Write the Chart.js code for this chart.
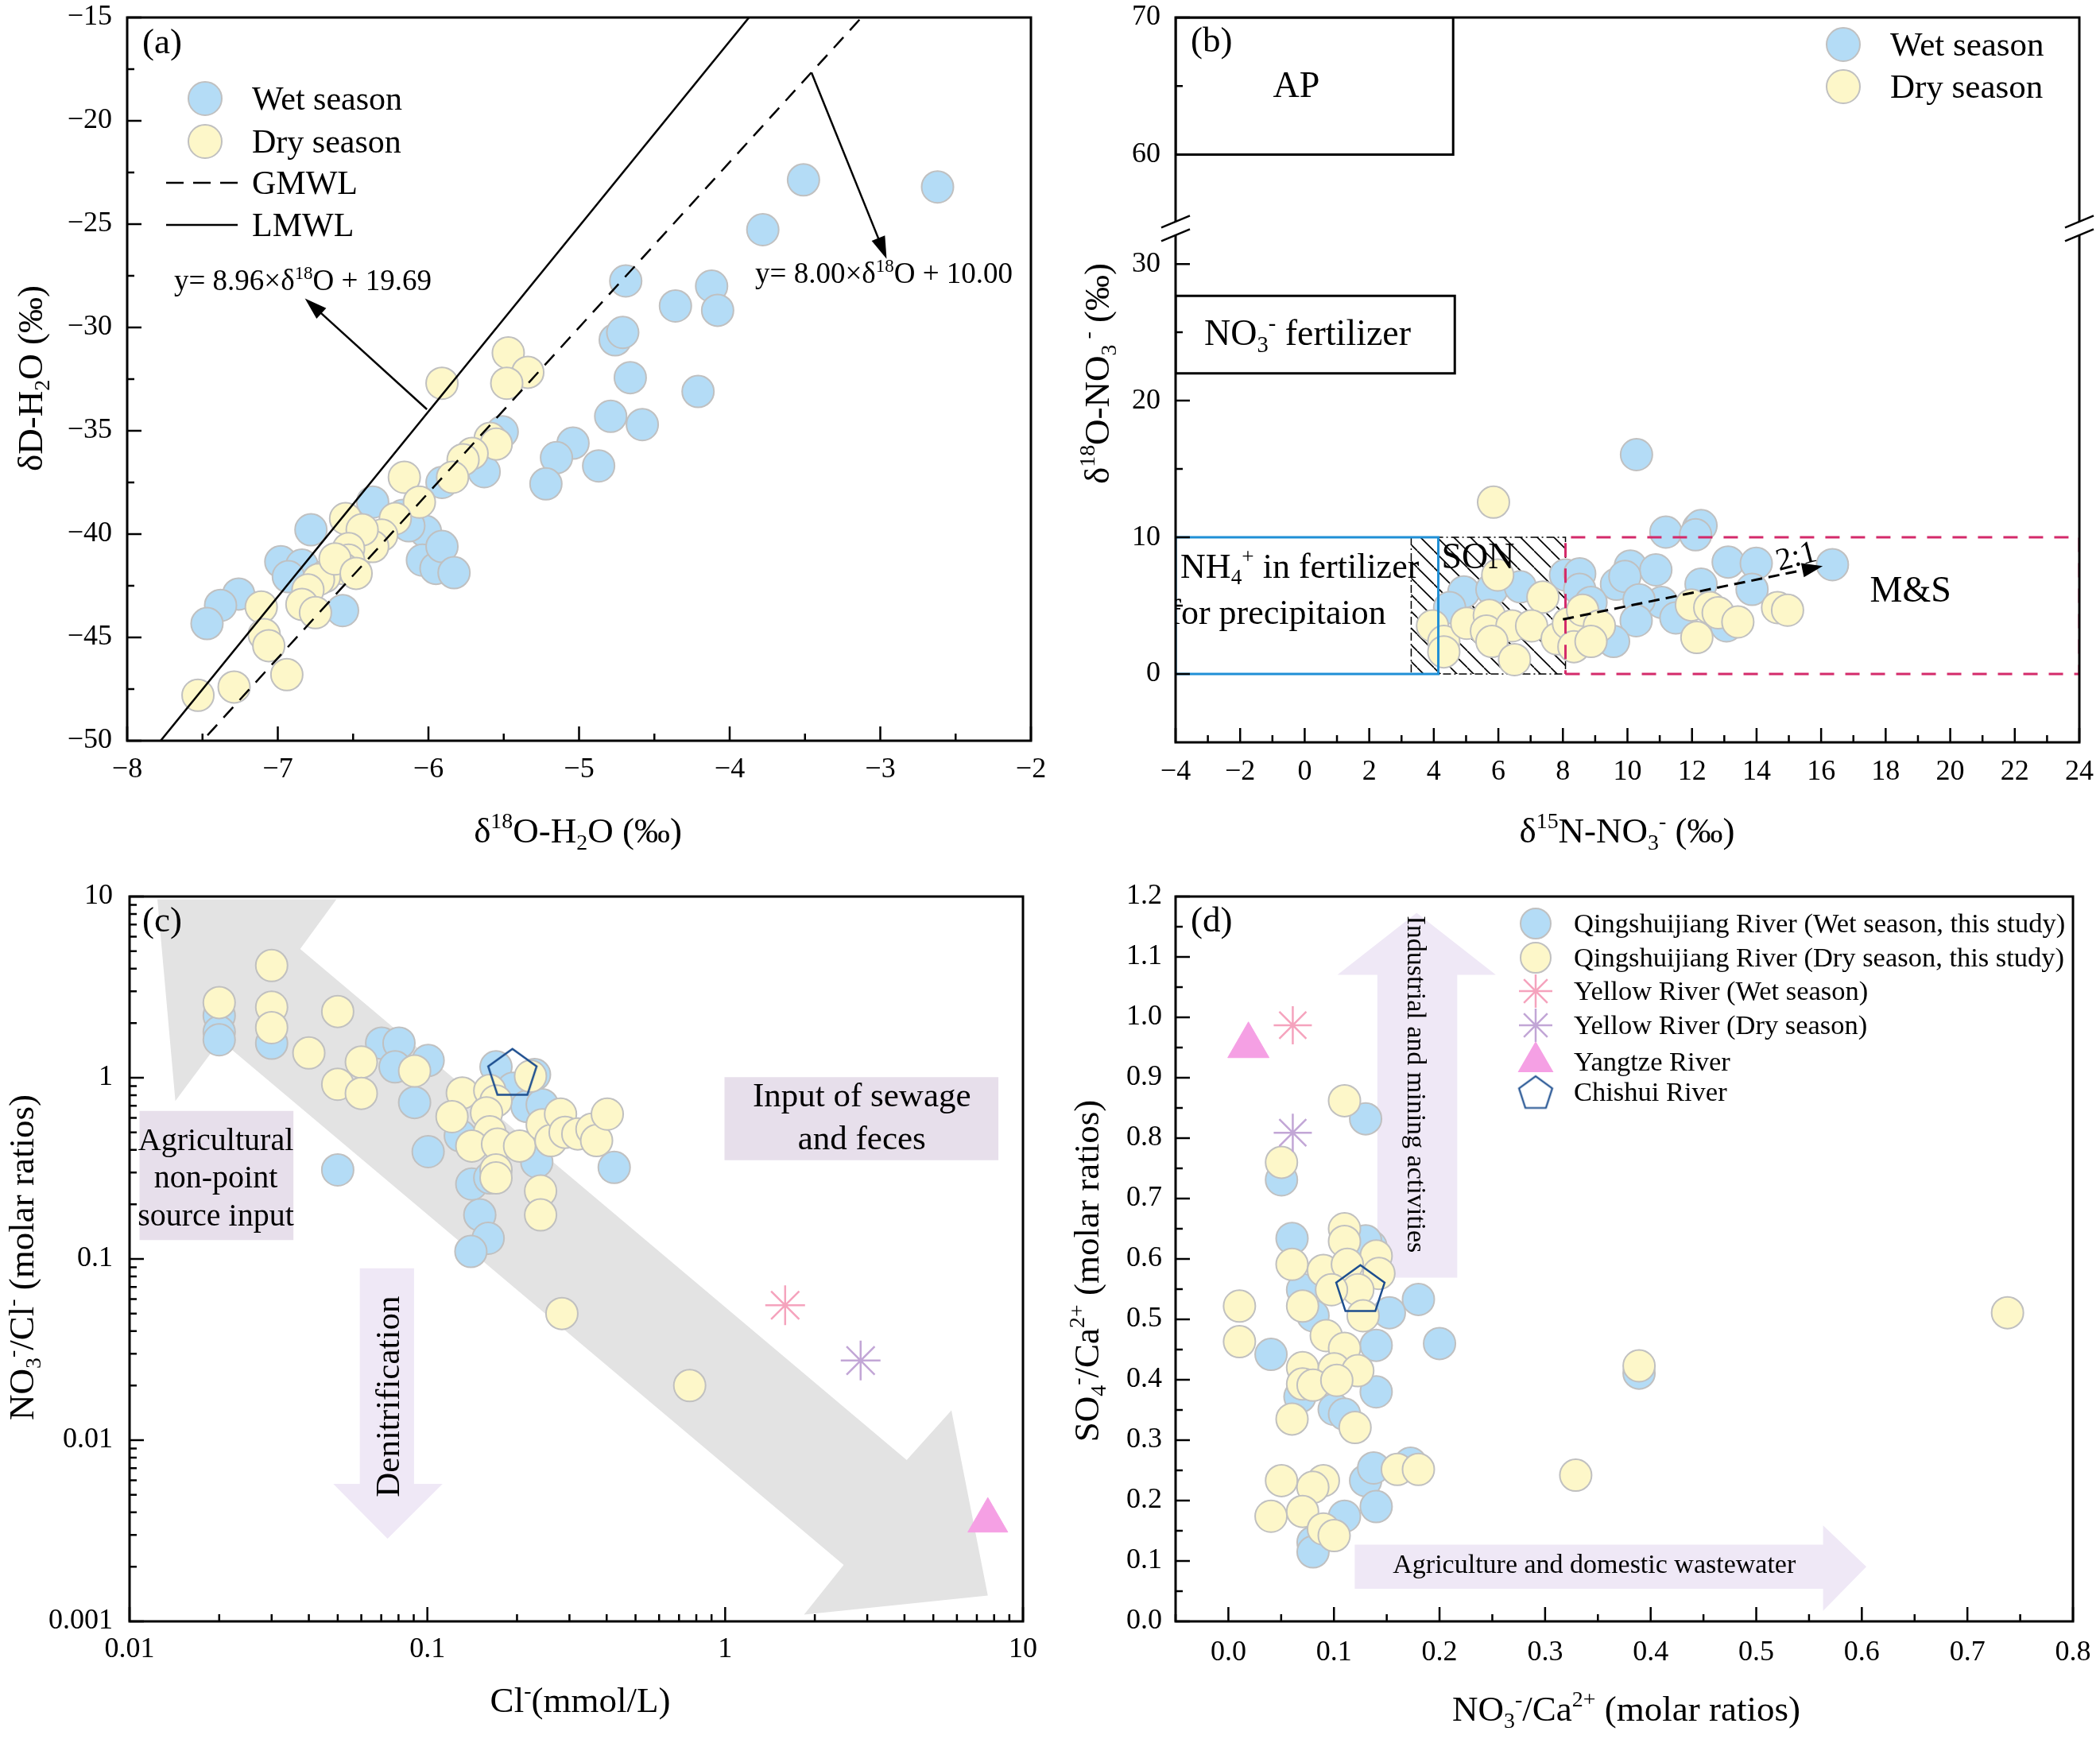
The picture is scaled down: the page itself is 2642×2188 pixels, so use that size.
<!DOCTYPE html>
<html><head><meta charset="utf-8">
<script src="https://cdn.jsdelivr.net/npm/chart.js@4.4.1/dist/chart.umd.min.js"></script>
<style>
html,body{margin:0;padding:0;background:#fff;}
#wrap{position:relative;width:2642px;height:2188px;background:#fff;}
canvas{position:absolute;}
</style></head>
<body><div id="wrap">
<canvas id="ca" width="1321" height="1094" style="left:0;top:0"></canvas>
<canvas id="cb" width="1321" height="1094" style="left:1321px;top:0"></canvas>
<canvas id="cc" width="1321" height="1094" style="left:0;top:1094px"></canvas>
<canvas id="cd" width="1321" height="1094" style="left:1321px;top:1094px"></canvas>
</div>
<script>
// ================= DATA =================
// ---- Panel (a): dD vs d18O of water ----
const aWetX = [-2.62,-3.51,-3.78,-4.69,-4.12,-4.08,-4.36,-4.76,-4.71,-4.66,-4.21,-4.79,-4.58,-5.04,-5.15,-4.87,-5.22,-5.51,-5.63,-5.91,-6.37,-6.17,-6.02,-6.04,-5.95,-5.91,-5.83,-6.78,-6.98,-6.84,-6.93,-6.57,-7.26,-7.38,-7.47,-6.44,-6.13];
const aWetY = [-23.2,-22.86,-25.27,-27.75,-28.0,-29.17,-28.96,-30.6,-30.24,-32.43,-33.1,-34.3,-34.7,-35.6,-36.3,-36.7,-37.57,-35.05,-36.98,-37.5,-38.45,-39.1,-39.87,-41.26,-41.66,-40.6,-41.87,-39.79,-41.34,-41.5,-42.06,-43.7,-42.9,-43.45,-44.33,-40.7,-39.6];
const aDryX = [-5.91,-5.47,-5.34,-5.48,-5.59,-5.55,-5.71,-5.77,-5.84,-6.16,-6.06,-6.22,-6.31,-6.37,-6.55,-6.44,-6.53,-6.53,-6.57,-6.69,-6.73,-6.80,-6.84,-6.75,-7.11,-7.09,-7.06,-6.94,-7.29,-7.53,-6.62,-6.48];
const aDryY = [-32.7,-31.23,-32.17,-32.7,-35.37,-35.64,-36.1,-36.4,-37.25,-37.25,-38.45,-39.25,-40.05,-40.6,-39.25,-39.79,-40.7,-41.26,-41.66,-42.06,-42.2,-42.7,-43.4,-43.8,-43.53,-44.87,-45.4,-46.8,-47.4,-47.8,-41.2,-41.9];
const aLmwlX = [-8, -3];      // y = 8.96x + 19.69
const aLmwlY = [-51.99, -7.19];
const aGmwlX = [-8, -2];      // y = 8.00x + 10.00
const aGmwlY = [-54, -6];
const aXMajor = [-8,-7,-6,-5,-4,-3,-2];
const aXMinor = [-7.5,-6.5,-5.5,-4.5,-3.5,-2.5];
const aYMajor = [-50,-45,-40,-35,-30,-25,-20,-15];
const aYMinor = [-47.5,-42.5,-37.5,-32.5,-27.5,-22.5,-17.5];

// ---- Panel (b): d18O-NO3 vs d15N-NO3 ----
const bWetX = [10.28,11.19,12.2,12.28,12.11,8.08,8.52,10.09,10.88,13.12,13.99,16.35,4.93,5.8,6.68,4.49,8.52,9.66,9.92,12.28,13.86,11.06,10.36,11.5,13.07,10.27,9.57,8.87];
const bWetY = [16.05,10.38,10.67,10.86,10.19,7.24,7.33,7.9,7.62,8.19,8.1,8.0,6.0,6.19,6.38,4.86,6.19,6.57,7.14,6.57,6.19,5.24,5.43,4.1,3.52,3.9,2.38,5.24];
const bDryX = [5.85,5.98,7.38,3.96,4.31,4.31,5.02,5.72,5.63,6.42,5.8,6.5,7.03,7.82,8.17,8.34,8.61,9.13,8.87,11.98,12.55,12.81,13.42,12.15,14.65,14.96];
const bDryY = [12.57,7.24,5.62,3.52,2.38,1.62,3.71,4.29,3.14,3.52,2.38,1.05,3.52,2.57,3.71,2.0,4.67,3.52,2.38,5.05,4.86,4.48,3.81,2.67,4.86,4.67];
const bApX = [-4, 4.6, 4.6, -4, -4],        bApY = [60, 60, 70, 70, 60];
const bFertX = [-4, 4.65, 4.65, -4, -4],    bFertY = [22.0, 22.0, 27.66, 27.66, 22.0];
const bNh4X = [-4, 4.14, 4.14, -4, -4],     bNh4Y = [0, 0, 10, 10, 0];
const bSonX = [3.3, 8.08, 8.08, 3.3, 3.3],  bSonY = [0, 0, 10, 10, 0];
const bMsX = [8.08, 24, 24, 8.08, 8.08],    bMsY = [0, 0, 10, 10, 0];
const bXMajor = [-4,-2,0,2,4,6,8,10,12,14,16,18,20,22,24];
const bXMinor = [-3,-1,1,3,5,7,9,11,13,15,17,19,21,23];
const bYMajor = [0,10,20,30], bYMinor = [5,15,25];
const bY2Major = [60,70], bY2Minor = [65];

// ---- Panel (c): NO3/Cl vs Cl (log-log) ----
const cWetX = [0.02,0.02,0.02,0.03,0.0702,0.0803,0.1006,0.0779,0.0906,0.1006,0.05,0.17,0.229,0.194,0.216,0.243,0.129,0.233,0.424,0.141,0.15,0.162,0.16,0.14];
const cWetY = [2.2,1.79,1.62,1.55,1.553,1.553,1.245,1.148,0.73,0.391,0.31,1.148,1.04,0.875,0.695,0.71,0.478,0.343,0.32,0.259,0.175,0.28,0.13,0.11];
const cDryX = [0.03,0.02,0.03,0.03,0.05,0.04,0.06,0.05,0.06,0.0906,0.131,0.162,0.121,0.17,0.158,0.162,0.141,0.172,0.204,0.222,0.243,0.26,0.28,0.29,0.32,0.357,0.37,0.402,0.17,0.17,0.24,0.24,0.283,0.76];
const cDryY = [4.16,2.6,2.45,1.89,2.32,1.37,1.22,0.92,0.82,1.09,0.824,0.85,0.61,0.745,0.64,0.503,0.42,0.43,0.42,1.02,0.55,0.45,0.63,0.5,0.49,0.52,0.45,0.63,0.31,0.28,0.237,0.175,0.05,0.02];
const cYrWetX = [1.59], cYrWetY = [0.0555];
const cYrDryX = [2.85], cYrDryY = [0.0275];
const cYangX = [7.62],  cYangY = [0.0036];
const cChiX = [0.193],  cChiY = [1.08];
const cArrowX = [0.0124,0.0495,0.0374,4.07,5.75,7.62,1.84,2.5,0.0202,0.01425,0.0124];
const cArrowY = [9.65,9.65,5.13,0.00776,0.0146,0.00139,0.00109,0.00205,1.61,0.745,9.65];
const cAgriX = [0.0108,0.0355,0.0355,0.0108,0.0108], cAgriY = [0.656,0.656,0.127,0.127,0.656];
const cSewX = [0.995,8.27,8.27,0.995,0.995],         cSewY = [1.007,1.007,0.351,0.351,1.007];
const cDenX = [0.0593,0.0902,0.0902,0.1125,0.0735,0.0483,0.0593,0.0593];
const cDenY = [0.0888,0.0888,0.00574,0.00574,0.00286,0.00574,0.00574,0.0888];
const cXMajor = [0.01,0.1,1,10];
const cYMajor = [0.001,0.01,0.1,1,10];

// ---- Panel (d): SO4/Ca vs NO3/Ca ----
const dWetX = [0.13,0.0503,0.0603,0.135,0.0703,0.18,0.1525,0.0802,0.0404,0.2,0.14,0.14,0.0678,0.1002,0.11,0.13,0.1376,0.1725,0.11,0.14,0.0802,0.0802,0.389,0.13];
const dWetY = [0.832,0.731,0.634,0.621,0.549,0.533,0.511,0.506,0.442,0.46,0.457,0.38,0.372,0.351,0.343,0.233,0.254,0.262,0.174,0.19,0.131,0.115,0.411,0.63];
const dDryX = [0.738,0.389,0.329,0.11,0.0503,0.11,0.11,0.14,0.0603,0.09,0.1127,0.1426,0.1226,0.0977,0.0105,0.0703,0.1276,0.0105,0.0927,0.11,0.0703,0.1002,0.1226,0.0703,0.0802,0.1027,0.0603,0.12,0.0503,0.09,0.08,0.16,0.18,0.0404,0.0703,0.09,0.1002];
const dDryY = [0.511,0.423,0.242,0.862,0.76,0.65,0.629,0.605,0.591,0.581,0.591,0.576,0.549,0.549,0.522,0.522,0.506,0.463,0.473,0.452,0.42,0.418,0.415,0.393,0.391,0.399,0.335,0.321,0.233,0.233,0.222,0.2515,0.2515,0.174,0.182,0.153,0.142];
const dYrWetX = [0.061], dYrWetY = [0.987];
const dYrDryX = [0.061], dYrDryY = [0.809];
const dYangX = [0.019],  dYangY = [0.953];
const dChiX = [0.125],   dChiY = [0.552];
const dUpX = [0.1411,0.2168,0.2168,0.2533,0.1783,0.1033,0.1411,0.1411];
const dUpY = [0.569,0.569,1.0705,1.0705,1.173,1.0705,1.0705,0.569];
const dRightX = [0.1197,0.5633,0.5633,0.6043,0.5633,0.5633,0.1197,0.1197];
const dRightY = [0.127,0.127,0.159,0.0906,0.0174,0.054,0.054,0.127];
const dXMajor = [0,0.1,0.2,0.3,0.4,0.5,0.6,0.7,0.8];
const dXMinor = [-0.05,0.05,0.15,0.25,0.35,0.45,0.55,0.65,0.75];
const dYMajor = [0,0.1,0.2,0.3,0.4,0.5,0.6,0.7,0.8,0.9,1.0,1.1,1.2];
const dYMinor = [0.05,0.15,0.25,0.35,0.45,0.55,0.65,0.75,0.85,0.95,1.05,1.15];

// ================= STYLE =================
const SERIF = '"Liberation Serif","Times New Roman",serif';
const BLUE = '#b4dcf6', YEL = '#fdf7c9', EDGE = '#c0c0c0';
const PINK = '#f5a3bd', PURP = '#c2a6d6', TRI = '#f5a0e4', PENT = '#1d4e8f';
const LAV = '#e7dfeb', LAV2 = '#efe8f6', GRAY = '#e3e3e3';
const BOXBLUE = '#1f8fd6', CRIMSON = '#d42a6a';

function pts(xs, ys){ return xs.map((x,i)=>({x:x, y:ys[i]})); }
function logMinor(majors){ const out=[]; majors.slice(0,-1).forEach(d=>{ for(let k=2;k<=9;k++) out.push(+(k*d).toPrecision(6)); }); return out; }

function tickSetter(major, minor){
  return s => {
    const m = new Set(major.map(v=>+v.toPrecision(8)));
    s.ticks = major.concat(minor).sort((p,q)=>p-q).map(v=>({value:v, major:m.has(+v.toPrecision(8))}));
  };
}
function fmtLin(dec){ return (v,i,t)=> (t[i] && t[i].major) ? (Math.abs(v)<1e-9?0:v).toFixed(dec).replace('-','\u2212') : ''; }
function fmtLog(v,i,t){ if(!(t[i] && t[i].major)) return ''; const e=Math.round(Math.log10(v)); return e<0 ? Math.pow(10,e).toFixed(-e) : String(Math.round(Math.pow(10,e))); }

function zeroPad(s){ s.paddingLeft=0; s.paddingRight=0; s.paddingTop=0; s.paddingBottom=0; }
function axis(kind, o){
  const isLog = o.type==='logarithmic';
  const sc = {
    type: o.type || 'linear', position: kind==='x'?'bottom':'left', min:o.min, max:o.max, bounds:'data',
    afterBuildTicks: tickSetter(o.major, o.minor),
    grid:{display:false, drawTicks:false}, border:{display:false},
    ticks:{autoSkip:false, maxRotation:0, minRotation:0, padding:o.pad, color:'#000',
      font:{family:SERIF, size:36, lineHeight:1}, callback: isLog ? fmtLog : fmtLin(o.dec||0)}
  };
  if(kind==='x') sc.afterFit = s => { s.height = o.size; zeroPad(s); };
  else sc.afterFit = s => { s.width = o.size; zeroPad(s); };
  if(o.extra) Object.assign(sc, o.extra);
  return sc;
}

function ptSet(label, xs, ys, fill, edge, r, order, extra){
  return Object.assign({type:'scatter', label:label, data:pts(xs,ys), pointStyle:'circle', pointRadius:r, pointHoverRadius:r,
    pointBackgroundColor:fill, pointBorderColor:edge, pointBorderWidth:2, backgroundColor:fill, borderColor:edge,
    showLine:false, order:order}, extra||{});
}
function lineSet(label, xs, ys, color, lw, dash, order, extra){
  return Object.assign({type:'line', label:label, data:pts(xs,ys), borderColor:color, borderWidth:lw, borderDash:dash||[],
    pointRadius:0, pointHoverRadius:0, fill:false, tension:0, order:order}, extra||{});
}
function polySet(label, xs, ys, color, order, extra){
  return lineSet(label, xs, ys, 'rgba(0,0,0,0)', 1, [], order, Object.assign({fill:'shape', backgroundColor:color}, extra||{}));
}

// ---------- rich text (sub/superscripts) ----------
function parseRich(s){
  const out=[]; let i=0, buf='';
  while(i<s.length){
    const c=s[i];
    if((c==='^'||c==='_') && s[i+1]==='{'){
      if(buf){ out.push({t:buf,k:''}); buf=''; }
      const j=s.indexOf('}',i);
      out.push({t:s.slice(i+2,j), k:c==='^'?'sup':'sub'});
      i=j+1;
    } else { buf+=c; i++; }
  }
  if(buf) out.push({t:buf,k:''});
  return out;
}
function drawRich(ctx, str, x, y, size, align, rot){
  const segs=parseRich(str);
  ctx.save(); ctx.translate(x,y); if(rot) ctx.rotate(rot);
  ctx.fillStyle='#000'; ctx.textBaseline='alphabetic'; ctx.textAlign='left';
  let w=0;
  for(const s of segs){ ctx.font=(s.k?size*0.62:size)+'px '+SERIF; s.w=ctx.measureText(s.t).width; w+=s.w; }
  let cx = align==='left'?0:(align==='right'?-w:-w/2);
  const base=size*0.33;
  for(const s of segs){
    ctx.font=(s.k?size*0.62:size)+'px '+SERIF;
    const dy = s.k==='sup' ? -size*0.40 : (s.k==='sub' ? size*0.20 : 0);
    ctx.fillText(s.t, cx, base+dy); cx+=s.w;
  }
  ctx.restore();
}

// ---------- marker images / patterns ----------
function pentagon(r, color, lw){
  const s=Math.ceil(2*r+2*lw+4); const c=document.createElement('canvas'); c.width=s; c.height=s;
  const g=c.getContext('2d'); g.strokeStyle=color; g.lineWidth=lw; g.lineJoin='miter'; g.beginPath();
  const cy=s/2+r*0.1;
  for(let k=0;k<5;k++){ const a=-Math.PI/2+k*2*Math.PI/5; const px=s/2+r*Math.cos(a), py=cy+r*Math.sin(a); if(k) g.lineTo(px,py); else g.moveTo(px,py); }
  g.closePath(); g.stroke(); return c;
}
const pentBig = pentagon(32, PENT, 2.5);
const pentLeg = pentagon(22, PENT, 2.2);
function hatch(ctx){
  const s=21, c=document.createElement('canvas'); c.width=s; c.height=s;
  const g=c.getContext('2d'); g.strokeStyle='#000'; g.lineWidth=1.6; g.beginPath();
  for(const k of [-1,0,1]){ g.moveTo(k*s, 0); g.lineTo(k*s+s, s); }
  g.stroke();
  return ctx.createPattern(c,'repeat');
}

// ---------- decoration plugin ----------
const DECO = {};
function drawMarker(ctx, m){
  ctx.save();
  if(m.type==='circle'){
    ctx.beginPath(); ctx.arc(m.x,m.y,m.r,0,Math.PI*2); ctx.fillStyle=m.fill; ctx.fill(); ctx.lineWidth=2; ctx.strokeStyle=m.edge; ctx.stroke();
  } else if(m.type==='star'){
    ctx.strokeStyle=m.color; ctx.lineWidth=2.5; ctx.beginPath();
    for(let k=0;k<4;k++){ const a=k*Math.PI/4; ctx.moveTo(m.x-Math.cos(a)*m.r, m.y-Math.sin(a)*m.r); ctx.lineTo(m.x+Math.cos(a)*m.r, m.y+Math.sin(a)*m.r); }
    ctx.stroke();
  } else if(m.type==='tri'){
    ctx.beginPath(); ctx.moveTo(m.x, m.y-m.r); ctx.lineTo(m.x+0.866*m.r, m.y+0.5*m.r); ctx.lineTo(m.x-0.866*m.r, m.y+0.5*m.r); ctx.closePath();
    ctx.fillStyle=m.color; ctx.fill();
  } else if(m.type==='img'){
    ctx.drawImage(m.img, m.x-m.img.width/2, m.y-m.img.height/2);
  } else if(m.type==='line'){
    ctx.strokeStyle='#000'; ctx.lineWidth=2.5; ctx.setLineDash(m.dash||[]); ctx.beginPath(); ctx.moveTo(m.x1,m.y); ctx.lineTo(m.x2,m.y); ctx.stroke();
  }
  ctx.restore();
}
function drawTexts(chart){
  const d=DECO[chart.canvas.id]; if(!d || !d.texts) return;
  const ctx=chart.ctx, a=chart.chartArea;
  ctx.save(); ctx.beginPath(); ctx.rect(a.left,a.top,a.right-a.left,a.bottom-a.top); ctx.clip();
  for(const t of d.texts){
    const xs=chart.scales[t.xa||'x'], ys=chart.scales[t.ya||'y'];
    drawRich(ctx, t.s, xs.getPixelForValue(t.x), ys.getPixelForValue(t.y), t.size, t.align||'center', t.rot||0);
  }
  ctx.restore();
}
function drawArrows(chart, d){
  const ctx=chart.ctx;
  for(const ar of (d.arrows||[])){
    const xs=chart.scales.x, ys=chart.scales[ar.ya||'y'];
    const x1=xs.getPixelForValue(ar.x1), y1=ys.getPixelForValue(ar.y1), x2=xs.getPixelForValue(ar.x2), y2=ys.getPixelForValue(ar.y2);
    const an=Math.atan2(y2-y1,x2-x1), L=ar.hl||28, W=ar.hw||9, c=Math.cos(an), s=Math.sin(an);
    ctx.save(); ctx.strokeStyle='#000'; ctx.fillStyle='#000'; ctx.lineWidth=ar.lw||2.5; ctx.setLineDash(ar.dash||[]);
    ctx.beginPath(); ctx.moveTo(x1,y1); ctx.lineTo(x2-c*L*0.8, y2-s*L*0.8); ctx.stroke();
    ctx.setLineDash([]); ctx.beginPath(); ctx.moveTo(x2,y2);
    ctx.lineTo(x2-c*L-s*W, y2-s*L+c*W); ctx.lineTo(x2-c*L+s*W, y2-s*L-c*W); ctx.closePath(); ctx.fill();
    ctx.restore();
  }
}
function drawFrame(chart, d){
  const ctx=chart.ctx, a=chart.chartArea;
  ctx.save(); ctx.strokeStyle='#000'; ctx.lineWidth=2.5; ctx.beginPath();
  for(const id in chart.scales){
    const s=chart.scales[id];
    for(const t of s.ticks){
      const L=t.major?18:9, p=s.getPixelForValue(t.value);
      if(s.isHorizontal()){ ctx.moveTo(p,a.bottom); ctx.lineTo(p,a.bottom-L); }
      else { ctx.moveTo(a.left,p); ctx.lineTo(a.left+L,p); }
    }
  }
  ctx.stroke();
  ctx.lineWidth=3; ctx.strokeRect(a.left,a.top,a.right-a.left,a.bottom-a.top);
  if(d.brk){
    const yb=chart.scales[d.brk].bottom;
    for(const x of [a.left,a.right]){
      ctx.fillStyle='#fff'; ctx.beginPath();
      ctx.moveTo(x-18,yb-1); ctx.lineTo(x+18,yb-16); ctx.lineTo(x+18,yb+1); ctx.lineTo(x-18,yb+16); ctx.closePath(); ctx.fill();
      ctx.lineWidth=2.5; ctx.beginPath();
      ctx.moveTo(x-18,yb-1); ctx.lineTo(x+18,yb-16);
      ctx.moveTo(x-18,yb+16); ctx.lineTo(x+18,yb+1);
      ctx.stroke();
    }
  }
  ctx.restore();
}
const decoPlugin = {
  id:'deco',
  beforeDatasetDraw(chart, args){
    const d=DECO[chart.canvas.id]; const ds=chart.data.datasets[args.index];
    if(!d.textsOnTop && ds && ds._textsHere) drawTexts(chart);
  },
  afterDatasetsDraw(chart){
    const d=DECO[chart.canvas.id];
    if(d.textsOnTop) drawTexts(chart);
    drawArrows(chart,d); drawFrame(chart,d);
  },
  afterDraw(chart){
    const d=DECO[chart.canvas.id], ctx=chart.ctx;
    for(const t of d.titles) drawRich(ctx, t.s, t.x, t.y, t.size, t.align||'center', t.rot||0);
    for(const m of (d.legend||[])){ drawMarker(ctx, m); if(m.text) drawRich(ctx, m.text, m.tx, m.y, m.size, 'left', 0); }
  }
};

function makeChart(id, datasets, scales, pad, deco){
  DECO[id]=deco;
  return new Chart(document.getElementById(id), {
    type:'scatter', data:{datasets:datasets},
    options:{responsive:false, maintainAspectRatio:false, animation:false, devicePixelRatio:1, events:[],
      layout:{padding:{left:0, right:pad.r, top:pad.t, bottom:0}},
      plugins:{legend:{display:false}, tooltip:{enabled:false}},
      scales:scales},
    plugins:[decoPlugin]
  });
}

// ================= PANEL (a) =================
makeChart('ca', [
  ptSet('Wet season', aWetX, aWetY, BLUE, EDGE, 20, 1, {_textsHere:true}),
  ptSet('Dry season', aDryX, aDryY, YEL, EDGE, 20, 0),
  lineSet('GMWL', aGmwlX, aGmwlY, '#000', 2.5, [18,12], -1),
  lineSet('LMWL', aLmwlX, aLmwlY, '#000', 2.5, [], -1)
], {
  x: axis('x', {min:-8, max:-2, major:aXMajor, minor:aXMinor, dec:0, pad:19, size:162}),
  y: axis('y', {min:-50, max:-15, major:aYMajor, minor:aYMinor, dec:0, pad:19, size:160})
}, {r:24, t:20}, {
  titles:[
    {s:'δ^{18}O-H_{2}O (‰)', x:727, y:1045, size:45},
    {s:'δD-H_{2}O (‰)', x:38, y:476, size:45, rot:-Math.PI/2},
    {s:'(a)', x:179, y:52, size:45, align:'left'}
  ],
  texts:[
    {s:'y= 8.96×δ^{18}O + 19.69', x:-6.834, y:-27.74, size:37},
    {s:'y= 8.00×δ^{18}O + 10.00', x:-2.976, y:-27.39, size:37}
  ],
  arrows:[
    {x1:-6.01, y1:-33.96, x2:-6.82, y2:-28.6},
    {x1:-3.457, y1:-17.66, x2:-2.958, y2:-26.68}
  ],
  legend:[
    {type:'circle', x:258, y:124, r:21, fill:BLUE, edge:EDGE, text:'Wet season', tx:317, size:42},
    {type:'circle', x:258, y:178, r:21, fill:YEL, edge:EDGE, text:'Dry season', tx:317, size:42},
    {type:'line', x1:209, x2:299, y:230, dash:[22,12], text:'GMWL', tx:317, size:42},
    {type:'line', x1:209, x2:299, y:283, text:'LMWL', tx:317, size:42}
  ]
});

// ================= PANEL (b) =================
const cbctx = document.getElementById('cb').getContext('2d');
makeChart('cb', [
  lineSet('SON', bSonX, bSonY, '#000', 1.5, [10,4,2,4], 12, {fill:'shape', backgroundColor:hatch(cbctx)}),
  ptSet('Wet season', bWetX, bWetY, BLUE, EDGE, 20, 1, {_textsHere:true}),
  ptSet('Dry season', bDryX, bDryY, YEL, EDGE, 20, 0),
  lineSet('NH4+ in fertilizer or precipitation', bNh4X, bNh4Y, BOXBLUE, 3, [], -1),
  lineSet('M&S', bMsX, bMsY, CRIMSON, 3, [18,14], -1),
  lineSet('NO3- fertilizer', bFertX, bFertY, '#000', 3, [], -1),
  lineSet('AP', bApX, bApY, '#000', 3, [], -1, {yAxisID:'y2'})
], {
  x: axis('x', {min:-4, max:24, major:bXMajor, minor:bXMinor, dec:0, pad:20, size:160}),
  y: axis('y', {min:-5, max:32.6, major:bYMajor, minor:bYMinor, dec:0, pad:19, size:158, extra:{stack:'b', stackWeight:648, weight:0}}),
  y2: axis('y', {min:54.62, max:70, major:bY2Major, minor:bY2Minor, dec:0, pad:19, size:158, extra:{stack:'b', stackWeight:266, weight:1}})
}, {r:26, t:20}, {
  brk:'y2',
  textsOnTop:true,
  titles:[
    {s:'δ^{15}N-NO_{3}^{-} (‰)', x:726, y:1045, size:45},
    {s:'δ^{18}O-NO_{3}^{ -} (‰)', x:59, y:470, size:45, rot:-Math.PI/2},
    {s:'(b)', x:177, y:50, size:45, align:'left'}
  ],
  texts:[
    {s:'AP', x:-0.26, y:65.1, ya:'y2', size:46},
    {s:'NO_{3}^{-} fertilizer', x:0.09, y:24.96, size:46},
    {s:'NH_{4}^{+} in fertilizer', x:-3.85, y:7.9, size:44, align:'left'},
    {s:'for precipitaion', x:-4.19, y:4.48, size:44, align:'left'},
    {s:'SON', x:5.37, y:8.6, size:46},
    {s:'M&S', x:18.77, y:6.2, size:46},
    {s:'2:1', x:15.22, y:8.67, size:40, rot:-0.26}
  ],
  arrows:[
    {x1:8.0, y1:4.0, x2:16.05, y2:7.9, lw:3, dash:[14,8], hl:26, hw:9}
  ],
  legend:[
    {type:'circle', x:998, y:56, r:21, fill:BLUE, edge:EDGE, text:'Wet season', tx:1057, size:43},
    {type:'circle', x:998, y:109, r:21, fill:YEL, edge:EDGE, text:'Dry season', tx:1057, size:43}
  ]
});

// ================= PANEL (c) =================
makeChart('cc', [
  polySet('arrow', cArrowX, cArrowY, GRAY, 11),
  polySet('agri box', cAgriX, cAgriY, LAV, 10),
  polySet('sewage box', cSewX, cSewY, LAV, 10),
  polySet('denitrification', cDenX, cDenY, LAV2, 10),
  ptSet('Wet season', cWetX, cWetY, BLUE, EDGE, 20, 2, {_textsHere:true}),
  ptSet('Dry season', cDryX, cDryY, YEL, EDGE, 20, 1),
  ptSet('Yellow River (Wet season)', cYrWetX, cYrWetY, PINK, PINK, 25, 0, {pointStyle:'star', pointBorderWidth:2.5}),
  ptSet('Yellow River (Dry season)', cYrDryX, cYrDryY, PURP, PURP, 25, 0, {pointStyle:'star', pointBorderWidth:2.5}),
  ptSet('Yangtze River', cYangX, cYangY, TRI, TRI, 29, 0, {pointStyle:'triangle', pointBorderWidth:1}),
  ptSet('Chishui River', cChiX, cChiY, 'rgba(0,0,0,0)', PENT, 32, 0, {pointStyle:pentBig})
], {
  x: axis('x', {type:'logarithmic', min:0.01, max:10, major:cXMajor, minor:logMinor(cXMajor), pad:18, size:148}),
  y: axis('y', {type:'logarithmic', min:0.001, max:10, major:cYMajor, minor:logMinor(cYMajor), pad:21, size:163})
}, {r:24, t:31}, {
  titles:[
    {s:'Cl^{-}(mmol/L)', x:730, y:1045, size:45},
    {s:'NO_{3}^{-}/Cl^{-} (molar ratios)', x:27, y:488, size:45, rot:-Math.PI/2},
    {s:'(c)', x:179, y:63, size:45, align:'left'}
  ],
  texts:[
    {s:'Agricultural', x:0.01948, y:0.456, size:40},
    {s:'non-point', x:0.01948, y:0.2826, size:40},
    {s:'source input', x:0.01948, y:0.174, size:40},
    {s:'Input of sewage', x:2.877, y:0.7985, size:43},
    {s:'and feces', x:2.877, y:0.4655, size:43},
    {s:'Denitrification', x:0.0735, y:0.0174, size:43, rot:-Math.PI/2}
  ],
  arrows:[]
});

// ================= PANEL (d) =================
makeChart('cd', [
  polySet('industrial arrow', dUpX, dUpY, LAV2, 10),
  polySet('agriculture arrow', dRightX, dRightY, LAV2, 10),
  ptSet('Qingshuijiang River (Wet season, this study)', dWetX, dWetY, BLUE, EDGE, 20, 2, {_textsHere:true}),
  ptSet('Qingshuijiang River (Dry season, this study)', dDryX, dDryY, YEL, EDGE, 20, 1),
  ptSet('Yellow River (Wet season)', dYrWetX, dYrWetY, PINK, PINK, 24, 0, {pointStyle:'star', pointBorderWidth:2.5}),
  ptSet('Yellow River (Dry season)', dYrDryX, dYrDryY, PURP, PURP, 24, 0, {pointStyle:'star', pointBorderWidth:2.5}),
  ptSet('Yangtze River', dYangX, dYangY, TRI, TRI, 30, 0, {pointStyle:'triangle', pointBorderWidth:1}),
  ptSet('Chishui River', dChiX, dChiY, 'rgba(0,0,0,0)', PENT, 32, 0, {pointStyle:pentBig})
], {
  x: axis('x', {min:-0.05, max:0.8, major:dXMajor, minor:dXMinor, dec:1, pad:22, size:148}),
  y: axis('y', {min:0, max:1.2, major:dYMajor, minor:dYMinor, dec:1, pad:17, size:158})
}, {r:26, t:31}, {
  titles:[
    {s:'NO_{3}^{-}/Ca^{2+} (molar ratios)', x:725, y:1056, size:45},
    {s:'SO_{4}^{-}/Ca^{2+} (molar ratios)', x:46, y:505, size:45, rot:-Math.PI/2},
    {s:'(d)', x:177, y:63, size:45, align:'left'}
  ],
  texts:[
    {s:'Industrial and mining activities', x:0.1783, y:0.889, size:34, rot:Math.PI/2},
    {s:'Agriculture and domestic wastewater', x:0.3466, y:0.0951, size:34}
  ],
  arrows:[],
  legend:[
    {type:'circle', x:611, y:68, r:19, fill:BLUE, edge:EDGE, text:'Qingshuijiang River (Wet season, this study)', tx:659, size:34.5},
    {type:'circle', x:611, y:111, r:19, fill:YEL, edge:EDGE, text:'Qingshuijiang River (Dry season, this study)', tx:659, size:34.5},
    {type:'star', x:611, y:153, r:21, color:PINK, text:'Yellow River (Wet season)', tx:659, size:34.5},
    {type:'star', x:611, y:196, r:21, color:PURP, text:'Yellow River (Dry season)', tx:659, size:34.5},
    {type:'tri', x:611, y:242, r:26, color:TRI, text:'Yangtze River', tx:659, size:34.5},
    {type:'img', x:611, y:280, img:pentLeg, text:'Chishui River', tx:659, size:34.5}
  ]
});
</script>
</body></html>
